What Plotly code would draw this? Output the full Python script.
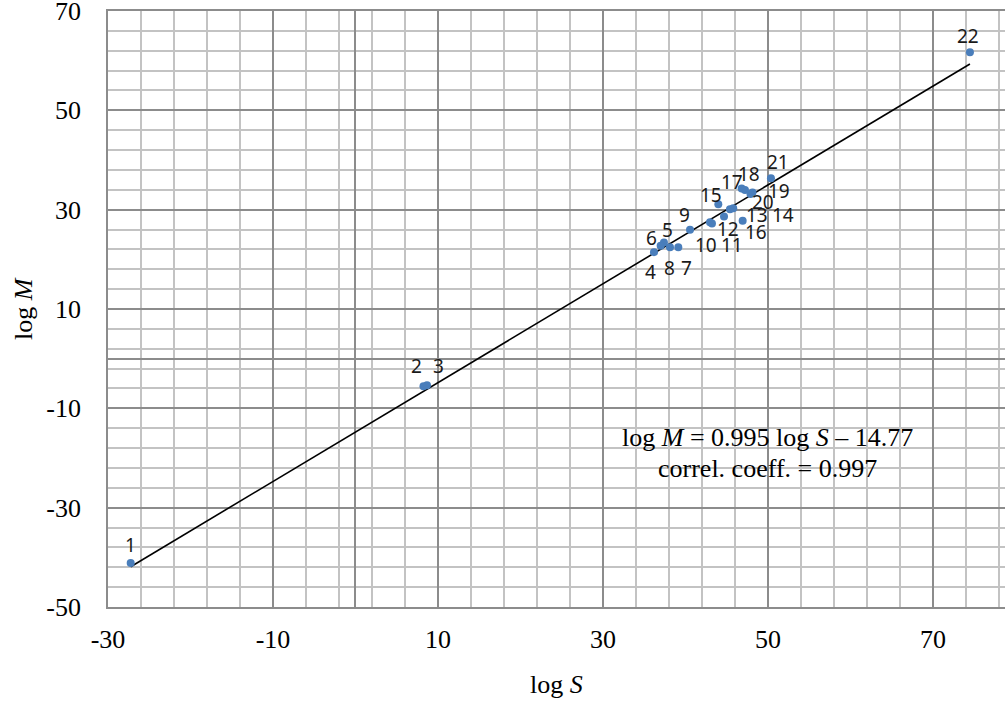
import plotly.graph_objects as go

# ---- data ----
point_ids = [str(i) for i in range(1, 23)]
log_s = [-27.25, 8.24, 8.67, 36.18, 37.39, 36.99, 39.13, 38.12, 40.55, 42.97, 43.21,
         44.67, 45.39, 45.79, 43.98, 46.93, 46.81, 47.21, 48.12, 47.88, 50.36, 74.48]
log_m = [-41.13, -5.55, -5.35, 21.45, 23.38, 22.72, 22.45, 22.45, 25.94, 27.48, 27.24,
         28.61, 30.10, 30.30, 31.10, 27.75, 34.25, 33.98, 33.48, 33.18, 36.34, 61.69]
slope = 0.995
intercept = -14.77
correl = 0.997
x_ticks = [-30, -10, 10, 30, 50, 70]
y_ticks = [-50, -30, -10, 10, 30, 50, 70]

# label offsets in pixels (dx right, dy down) - styling only
label_offsets = [(0, -18), (-7, -20), (11, -19), (-3, 20), (4, -13), (-9, -8), (8, 21),
                 (0, 21), (-6, -15), (-4, 23), (20, 22), (4, 12), (27, 6), (50, 7),
                 (-7, -9), (13, 11), (-10, -7), (4, -16), (27, -1), (13, 8), (7, -16),
                 (-2, -16)]

serif = "Liberation Serif, Times New Roman, serif"
sans = "Noto Sans, Open Sans, sans-serif"
FS = 26

fig = go.Figure()

x_lo, x_hi = min(log_s), max(log_s)
fig.add_trace(go.Scatter(
    x=[x_lo, x_hi], y=[slope * x_lo + intercept, slope * x_hi + intercept],
    mode="lines", line=dict(color="black", width=1.6), hoverinfo="skip",
    showlegend=False))

fig.add_trace(go.Scatter(
    x=log_s, y=log_m, mode="markers",
    marker=dict(color="#4a7ebb", size=8),
    showlegend=False))

for pid, xs, ym, (dx, dy) in zip(point_ids, log_s, log_m, label_offsets):
    fig.add_annotation(x=xs, y=ym, text=pid, showarrow=False,
                       xshift=dx, yshift=-dy,
                       font=dict(family=sans, size=19, color="#1a1a1a"))

# regression text (two lines, placed in the plot's data space)
fig.add_annotation(
    x=50, y=-15.8, xref="x", yref="y", showarrow=False,
    text=f"log <i>M</i> = {slope:.3f} log <i>S</i> \u2013 {abs(intercept):.2f}",
    xanchor="center", yanchor="middle",
    font=dict(family=serif, size=FS, color="black"))
fig.add_annotation(
    x=50, y=-22.15, xref="x", yref="y", showarrow=False,
    text=f"correl. coeff. = {correl:.3f}",
    xanchor="center", yanchor="middle",
    font=dict(family=serif, size=FS, color="black"))

W, H = 1005, 707
ML, MR, MT, MB = 108, 0, 11, 100
plot_h = H - MT - MB
plot_w = W - ML - MR

# axis titles
fig.add_annotation(x=0.5, y=(H - MB - 684) / plot_h, xref="paper", yref="paper",
                   text="log <i>S</i>", showarrow=False,
                   xanchor="center", yanchor="middle",
                   font=dict(family=serif, size=FS, color="black"))
fig.add_annotation(x=(23 - ML) / plot_w, y=0.5, xref="paper", yref="paper",
                   text="log <i>M</i>", showarrow=False,
                   xanchor="center", yanchor="middle", textangle=-90,
                   font=dict(family=serif, size=FS, color="black"))

minor_grid = "#c3c3c3"
major_grid = "#8c8c8c"

fig.update_xaxes(
    range=[-30, 78.73], tickmode="array", tickvals=x_ticks,
    ticktext=[str(v) for v in x_ticks],
    showgrid=True, gridcolor=major_grid, gridwidth=1.6,
    minor=dict(tick0=-30, dtick=4, showgrid=True, gridcolor=minor_grid, gridwidth=1.6),
    zeroline=True, zerolinecolor=major_grid, zerolinewidth=2,
    showline=True, linecolor=major_grid, linewidth=1.6, mirror=True,
    ticks="outside", ticklen=8, tickcolor="rgba(0,0,0,0)",
    tickfont=dict(family=serif, size=FS, color="black"),
    ticklabeloverflow="allow",
    automargin=False, fixedrange=True)

fig.update_yaxes(
    range=[-50, 70.001], tickmode="array", tickvals=y_ticks,
    ticktext=[str(v) for v in y_ticks],
    showgrid=True, gridcolor=major_grid, gridwidth=1.6,
    minor=dict(tick0=-50, dtick=4, showgrid=True, gridcolor=minor_grid, gridwidth=1.6),
    zeroline=True, zerolinecolor=major_grid, zerolinewidth=2,
    showline=True, linecolor=major_grid, linewidth=1.6, mirror=False,
    ticks="outside", ticklen=20, tickcolor="rgba(0,0,0,0)",
    tickfont=dict(family=serif, size=FS, color="black"),
    ticklabeloverflow="allow",
    automargin=False, fixedrange=True)

fig.update_layout(
    width=W, height=H,
    margin=dict(l=ML, r=MR, t=MT, b=MB),
    paper_bgcolor="white", plot_bgcolor="white",
    showlegend=False)

fig.write_html("out.html",
               config={"displayModeBar": False},
               post_script="document.body.style.margin='0';"
                           "document.body.style.overflow='hidden';")
